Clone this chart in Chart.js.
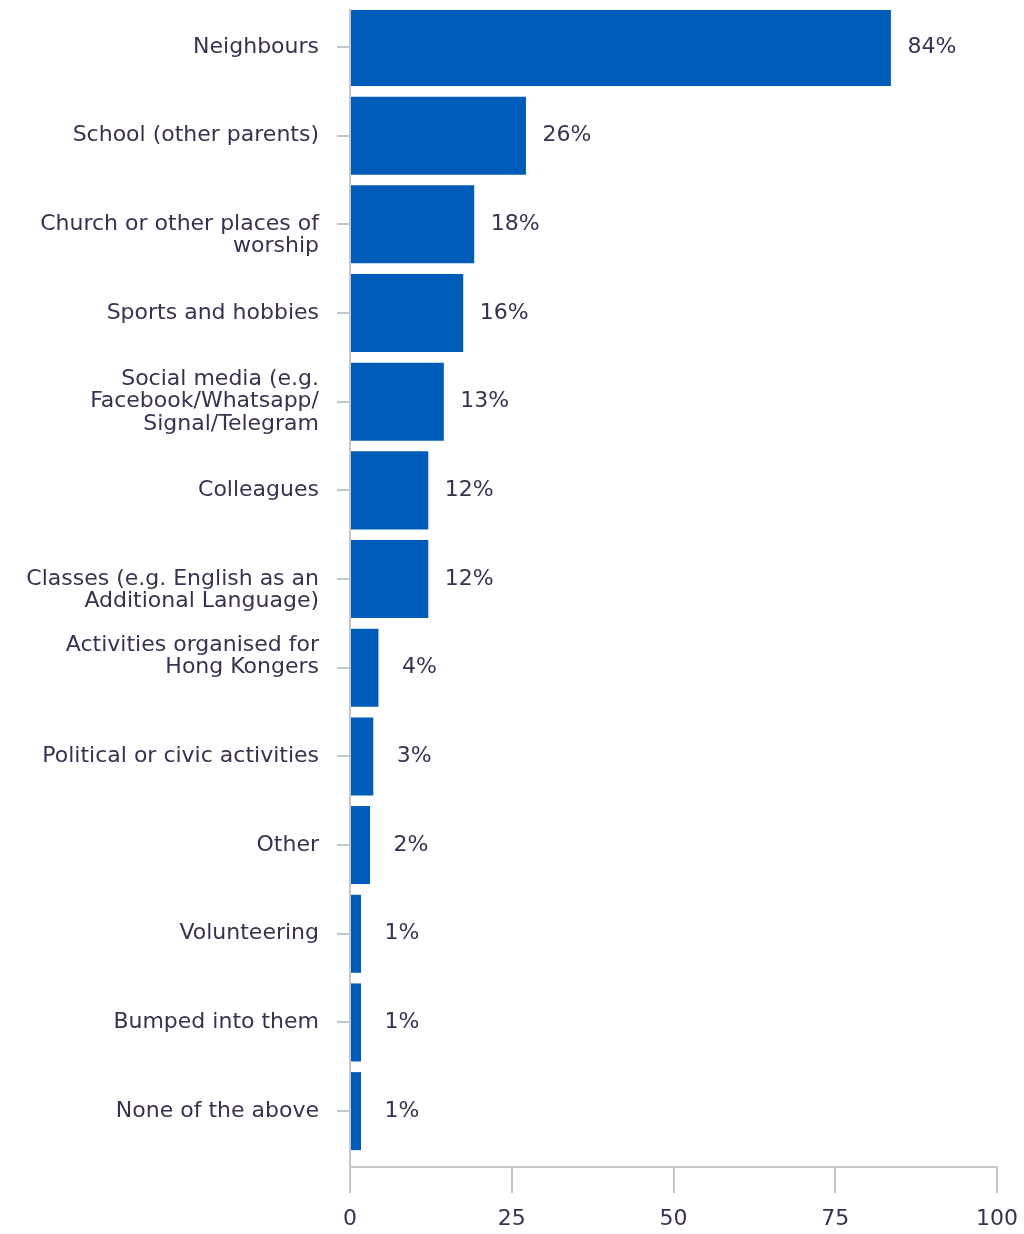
<!DOCTYPE html>
<html>
<head>
<meta charset="utf-8">
<script src="https://cdn.jsdelivr.net/npm/chart.js@4.4.1/dist/chart.umd.min.js"></script>
<style>
  html, body { margin: 0; padding: 0; background: #fff; }
  #wrap { width: 1024px; height: 1234px; position: relative; }
</style>
</head>
<body>
<div id="wrap"><canvas id="grafica" width="1024" height="1234"></canvas></div>
<script>
// categories (multi-line labels as in the picture)
const categorias = [
  ["Neighbours"],
  ["School (other parents)"],
  ["Church or other places of", "worship"],
  ["Sports and hobbies"],
  ["Social media (e.g.", "Facebook/Whatsapp/", "Signal/Telegram"],
  ["Colleagues"],
  ["Classes (e.g. English as an", "Additional Language)"],
  ["Activities organised for", "Hong Kongers"],
  ["Political or civic activities"],
  ["Other"],
  ["Volunteering"],
  ["Bumped into them"],
  ["None of the above"]
];

// bar lengths
const valores = [83.6, 27.2, 19.2, 17.5, 14.5, 12.1, 12.1, 4.4, 3.6, 3.1, 1.7, 1.7, 1.7];

// value labels printed next to the bars
const etiquetas = ["84%", "26%", "18%", "16%", "13%", "12%", "12%", "4%", "3%", "2%", "1%", "1%", "1%"];

// x axis ticks
const ticksX = [0, 25, 50, 75, 100];

const AZUL = "#005cb9";
const TEXTO = "#34344e";
const GRIS = "#c6c6c6";
const FUENTE = "'DejaVu Sans', sans-serif";

// which line of a wrapped label sits on the tick (others default to centred)
const lineaEnTick = { 2: 0, 6: 0, 7: 1 };

function lineasEtiqueta(i) {
  const lines = categorias[i].slice();
  if (lines.length === 2 && lineaEnTick[i] !== undefined) {
    if (lineaEnTick[i] === 0) lines.unshift("");
    else lines.push("");
  }
  return lines;
}

// ===============================
// PLUGIN: value labels
// ===============================
const etiquetasBarras = {
  id: "etiquetasBarras",
  afterDatasetsDraw(chart) {
    const c = chart.ctx;
    const meta = chart.getDatasetMeta(0);
    c.save();
    c.font = "22px " + FUENTE;
    c.fillStyle = TEXTO;
    c.textAlign = "center";
    c.textBaseline = "middle";
    meta.data.forEach((bar, i) => {
      c.fillText(etiquetas[i], bar.x + 41, bar.y);
    });
    c.restore();
  }
};

const ctx = document.getElementById("grafica").getContext("2d");

new Chart(ctx, {
  type: "bar",
  data: {
    datasets: [{
      data: valores.map((v, i) => ({ x: v, y: i })),
      backgroundColor: AZUL,
      borderWidth: 0,
      barPercentage: 0.88,
      categoryPercentage: 1
    }]
  },
  options: {
    indexAxis: "y",
    responsive: false,
    animation: false,
    devicePixelRatio: 1,
    layout: { padding: { top: 10, right: 27, left: 0, bottom: 0 } },
    plugins: {
      legend: { display: false },
      tooltip: { enabled: false }
    },
    scales: {
      x: {
        type: "linear",
        min: 0,
        max: 100,
        afterBuildTicks: s => { s.ticks = ticksX.map(v => ({ value: v })); },
        afterFit: s => { s.height = 67; s.paddingLeft = 0; s.paddingRight = 0; },
        grid: {
          drawOnChartArea: false,
          drawTicks: true,
          tickLength: 26,
          color: GRIS,
          lineWidth: 2
        },
        border: { display: true, color: GRIS, width: 2 },
        ticks: {
          color: TEXTO,
          padding: 13,
          font: { family: FUENTE, size: 22 }
        }
      },
      y: {
        type: "linear",
        reverse: true,
        offset: false,
        min: -0.417,
        max: 12.63,
        afterBuildTicks: s => { s.ticks = categorias.map((c, i) => ({ value: i })); },
        afterFit: s => { s.width = 350; s.paddingTop = 0; s.paddingBottom = 0; },
        grid: {
          offset: false,
          drawOnChartArea: false,
          drawTicks: true,
          tickLength: 13,
          color: GRIS,
          lineWidth: 2
        },
        border: { display: true, color: GRIS, width: 2 },
        ticks: {
          color: TEXTO,
          padding: 18,
          autoSkip: false,
          font: { family: FUENTE, size: 22, lineHeight: 1.02 },
          callback: v => lineasEtiqueta(v)
        }
      }
    }
  },
  plugins: [etiquetasBarras]
});
</script>
</body>
</html>
